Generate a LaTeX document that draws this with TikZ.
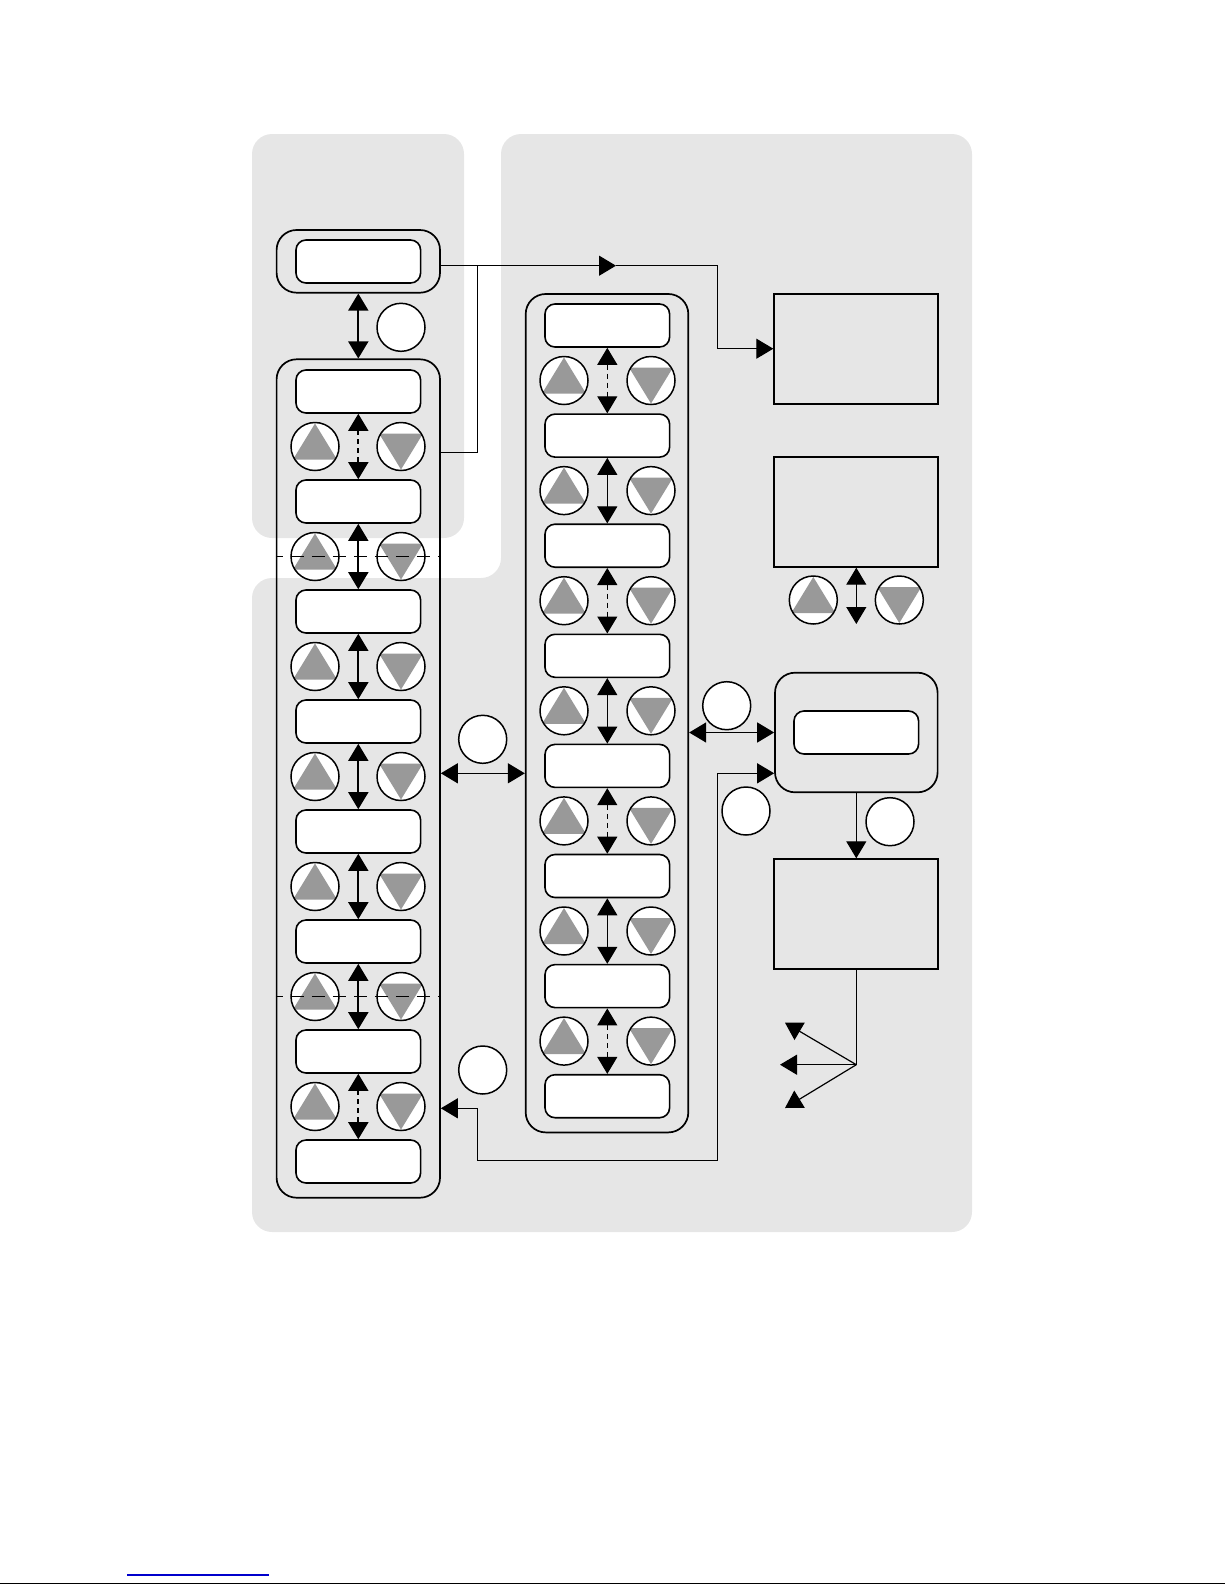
\documentclass[tikz,border=0pt]{standalone}
\usetikzlibrary{arrows.meta}
\definecolor{panelgray}{RGB}{230,230,230}
\definecolor{keygray}{RGB}{153,153,153}
\definecolor{linkblue}{RGB}{0,0,204}
\begin{document}
\begin{tikzpicture}[x=0.5pt,y=-0.5pt,>={Triangle[length=8.5pt,width=10pt]}]
\tikzstyle{panel} = [fill=panelgray,rounded corners=10pt]
\tikzstyle{group} = [draw,line width=0.85pt,rounded corners=10pt,inner sep=0]
\tikzstyle{disp} = [draw,fill=white,rounded corners=5pt,line width=0.8pt,minimum width=62.3pt,minimum height=21.5pt,inner sep=0]
\tikzstyle{blk} = [draw,line width=1pt,minimum width=82pt,minimum height=55pt,inner sep=0]
\tikzstyle{keycirc} = [circle,draw,fill=white,line width=0.75pt,minimum size=24pt,inner sep=0]
\tikzstyle{upkey} = [keycirc,path picture={\fill[keygray] ([yshift=11.5pt]path picture bounding box.center) -- ++(-11pt,-18pt) -- ++(22pt,0pt) -- cycle;}]
\tikzstyle{downkey} = [keycirc,path picture={\fill[keygray] ([yshift=-11.5pt]path picture bounding box.center) -- ++(-11pt,18pt) -- ++(22pt,0pt) -- cycle;}]
\tikzstyle{badge} = [circle,draw,fill=white,line width=0.75pt,minimum size=24pt,inner sep=0]
\tikzstyle{wire} = [line width=0.6pt]
\tikzstyle{lstep} = [line width=0.9pt,<->]
\tikzstyle{lstepd} = [lstep,dash pattern=on 2.5pt off 2pt]
\tikzstyle{mstep} = [line width=0.55pt,<->]
\tikzstyle{mstepd} = [mstep,dash pattern=on 2.5pt off 2pt]
\tikzstyle{sep} = [line width=0.85pt,dash pattern=on 6.5pt off 4pt,dash phase=3pt]
\useasboundingbox (0,0) rectangle (1225,1585);

% background areas
\fill[panel] (252,134) rectangle (464,538);
\fill[panel] (501,134) -- (972,134) -- (972,1232) -- (252,1232) -- (252,578) -- (501,578) -- cycle;

% left side
\node[group,minimum width=81.7pt,minimum height=31.35pt] (topgrp) at (358.3,261.35) {};
\node[disp] (topdisp) at (358.3,261.5) {};
\node[group,minimum width=81.7pt,minimum height=419.2pt] (leftgrp) at (358.3,778.5) {};
\foreach \k in {0,...,7}
  \node[disp] (L\k) at (358.3,{391.5+110*\k}) {};
\foreach \k in {0,...,6} {
  \node[upkey] (Lu\k) at (315,{446.5+110*\k}) {};
  \node[downkey] (Ld\k) at (401,{446.5+110*\k}) {};
}
\foreach \a/\b/\st in {0/1/lstepd,1/2/lstep,2/3/lstep,3/4/lstep,4/5/lstep,5/6/lstep,6/7/lstepd}
  \draw[\st] (L\a) -- (L\b);
\foreach \k in {1,5}
  \draw[sep] (leftgrp.west |- Lu\k) -- (leftgrp.east |- Lu\k);

% middle column
\node[group,minimum width=81.3pt,minimum height=419.2pt] (midgrp) at (607,713.2) {};
\foreach \k in {0,...,7}
  \node[disp] (M\k) at (607.3,{325.5+110.1*\k}) {};
\foreach \k in {0,...,6} {
  \node[upkey] (Mu\k) at (564,{380.5+110.1*\k}) {};
  \node[downkey] (Md\k) at (651,{380.5+110.1*\k}) {};
}
\foreach \a/\b/\st in {0/1/mstepd,1/2/mstep,2/3/mstepd,3/4/mstep,4/5/mstepd,5/6/mstep,6/7/mstepd}
  \draw[\st] (M\a) -- (M\b);

% right side
\node[blk] (blkA) at (856.3,348.7) {};
\node[blk] (blkB) at (856.3,511.7) {};
\node[upkey] (Bu) at (813.3,600) {};
\node[downkey] (Bd) at (899.3,600) {};
\coordinate (Bend) at (856.3,624);
\draw[mstep] (blkB) -- (Bend);
\node[group,minimum width=81.3pt,minimum height=59.8pt] (blkC) at (856.3,732.5) {};
\node[disp] (Cdisp) at (856.3,732.5) {};
\node[blk] (blkD) at (856.3,914.3) {};

% badges
\node[badge] (t1) at (401,327.3) {};
\node[badge] (t2) at (482.7,739.3) {};
\node[badge] (t3) at (726.7,705.7) {};
\node[badge] (t4) at (746,811) {};
\node[badge] (t5) at (890,821.7) {};
\node[badge] (t6) at (482.7,1070) {};

% connectors
\coordinate (toprow) at (0,265.7);
\coordinate (mid) at (616,265.7);
\coordinate (tap) at (477.7,265.7);
\coordinate (jog) at (717.7,265.7);
\coordinate (tapin) at (0,452.3);
\draw[lstep] (topgrp) -- (leftgrp);
\draw[wire,->] (topgrp.east |- toprow) -- (mid);
\draw[wire,->] (mid) -- (jog) |- (blkA.west);
\draw[wire] (tap) |- (leftgrp.east |- tapin);

\coordinate (xrow) at (0,773.3);
\draw[line width=0.7pt,<->] (leftgrp.east |- xrow) -- (midgrp.west |- xrow);
\draw[line width=0.7pt,<->] (midgrp.east |- blkC.west) -- (blkC.west);
\coordinate (retrow) at (0,1108.3);
\coordinate (r1) at (477.7,1160.7);
\coordinate (r2) at (717.7,773.3);
\draw[wire,<->] (leftgrp.east |- retrow) -| (r1) -| (r2) -- (blkC.west |- r2);
\draw[wire,->] (blkC) -- (blkD);

\coordinate (fan) at (856.3,1064.7);
\coordinate (f1) at (785,1022.7);
\coordinate (f2) at (780,1064.7);
\coordinate (f3) at (785,1108);
\draw[wire] (blkD) -- (fan);
\foreach \f in {f1,f2,f3}
  \draw[wire,->] (fan) -- (\f);

% page rules
\draw[line width=0.6pt] (0,1583.5) -- (1225,1583.5);
\draw[linkblue,line width=0.6pt] (127.3,1575) -- (269,1575);
\end{tikzpicture}
\end{document}
